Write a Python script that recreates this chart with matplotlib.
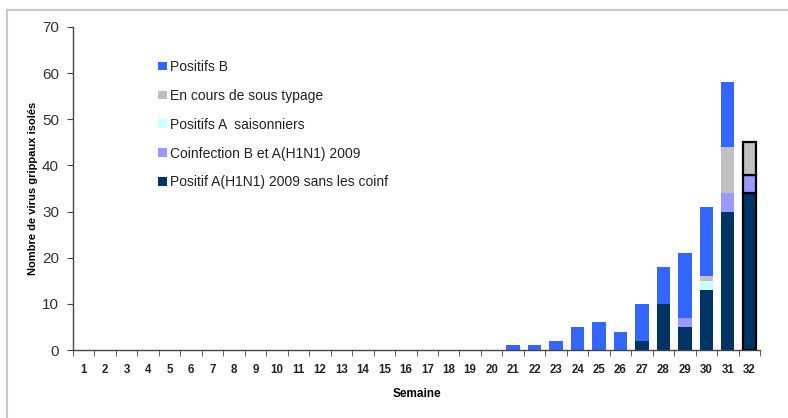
import matplotlib
matplotlib.use("Agg")
import matplotlib.pyplot as plt
from matplotlib.patches import Patch
from matplotlib.lines import Line2D
import numpy as np

plt.rcParams['font.family'] = ['Liberation Sans', 'DejaVu Sans']

# Weekly counts of isolated influenza viruses, weeks 1 to 32
weeks = list(range(1, 33))
h1n1_sans_coinf = [0]*26 + [2, 10, 5, 13, 30, 34]
coinfection = [0]*26 + [0, 0, 2, 0, 4, 4]
a_saisonniers = [0]*26 + [0, 0, 0, 2, 0, 0]
sous_typage = [0]*26 + [0, 0, 0, 1, 10, 7]
positifs_b = [0]*20 + [1, 1, 2, 5, 6, 4, 8, 8, 14, 15, 14, 0]

series = [
    ("Positif A(H1N1) 2009 sans les coinf", h1n1_sans_coinf, "#003366"),
    ("Coinfection B et A(H1N1) 2009", coinfection, "#9999FF"),
    ("Positifs A  saisonniers", a_saisonniers, "#CCFFFF"),
    ("En cours de sous typage", sous_typage, "#C0C0C0"),
    ("Positifs B", positifs_b, "#3366FF"),
]

fig = plt.figure(figsize=(7.88, 4.18), dpi=100)
ax = fig.add_axes([73/788, 1-350/418, (760-73)/788, (350-27)/418])

x = np.array(weeks)
bottom = np.zeros(len(weeks))
width = 0.62
for name, vals, col in series:
    vals = np.array(vals, dtype=float)
    edges = np.array(['black' if w == 32 else 'none' for w in weeks])
    lws = np.array([1.6 if w == 32 else 0 for w in weeks])
    mask = vals > 0
    ax.bar(x[mask], vals[mask], width, bottom=bottom[mask], color=col,
           edgecolor=edges[mask], linewidth=lws[mask], zorder=2)
    bottom += vals

ax.set_xlim(0.5, 32.5)
ax.set_ylim(0, 70)
ax.set_yticks(range(0, 71, 10))
ax.set_xticks(weeks)
ax.set_xticklabels([str(w) for w in weeks], fontsize=8.3, fontweight='bold', color='#222222')
ax.set_xticks(np.arange(0.5, 33, 1), minor=True)
ax.tick_params(axis='x', which='major', length=0, pad=10)
ax.tick_params(axis='x', which='minor', length=4, direction='out', color='#444444')
ax.tick_params(axis='y', length=4, direction='out', labelsize=11, labelcolor='#333333',
               color='#444444', pad=6)

for s in ['top', 'right']:
    ax.spines[s].set_visible(False)
for s in ['left', 'bottom']:
    ax.spines[s].set_color('#444444')
    ax.spines[s].set_linewidth(1.0)

ax.set_ylabel("Nombre de virus grippaux isolés", fontsize=8, fontweight='bold', labelpad=3)
ax.set_xlabel("Semaine", fontsize=8.5, fontweight='bold', labelpad=9)

handles = [Patch(facecolor=col, edgecolor='none', label=name) for name, vals, col in series][::-1]
ax.legend(handles=handles, loc='upper left', bbox_to_anchor=(0.124, 0.898), frameon=False,
          fontsize=10, handlelength=0.6, handleheight=0.6, handletextpad=0.25,
          labelspacing=1.07, borderpad=0, borderaxespad=0, labelcolor='#222222')

# Outer frame (top and left edges)
fig.add_artist(Line2D([7/788, 1], [1-10/418, 1-10/418], color='#C8C8C8', lw=1.5, transform=fig.transFigure))
fig.add_artist(Line2D([7/788, 7/788], [0, 1-10/418], color='#C8C8C8', lw=1.5, transform=fig.transFigure))

fig.savefig("out.png", dpi=100)
